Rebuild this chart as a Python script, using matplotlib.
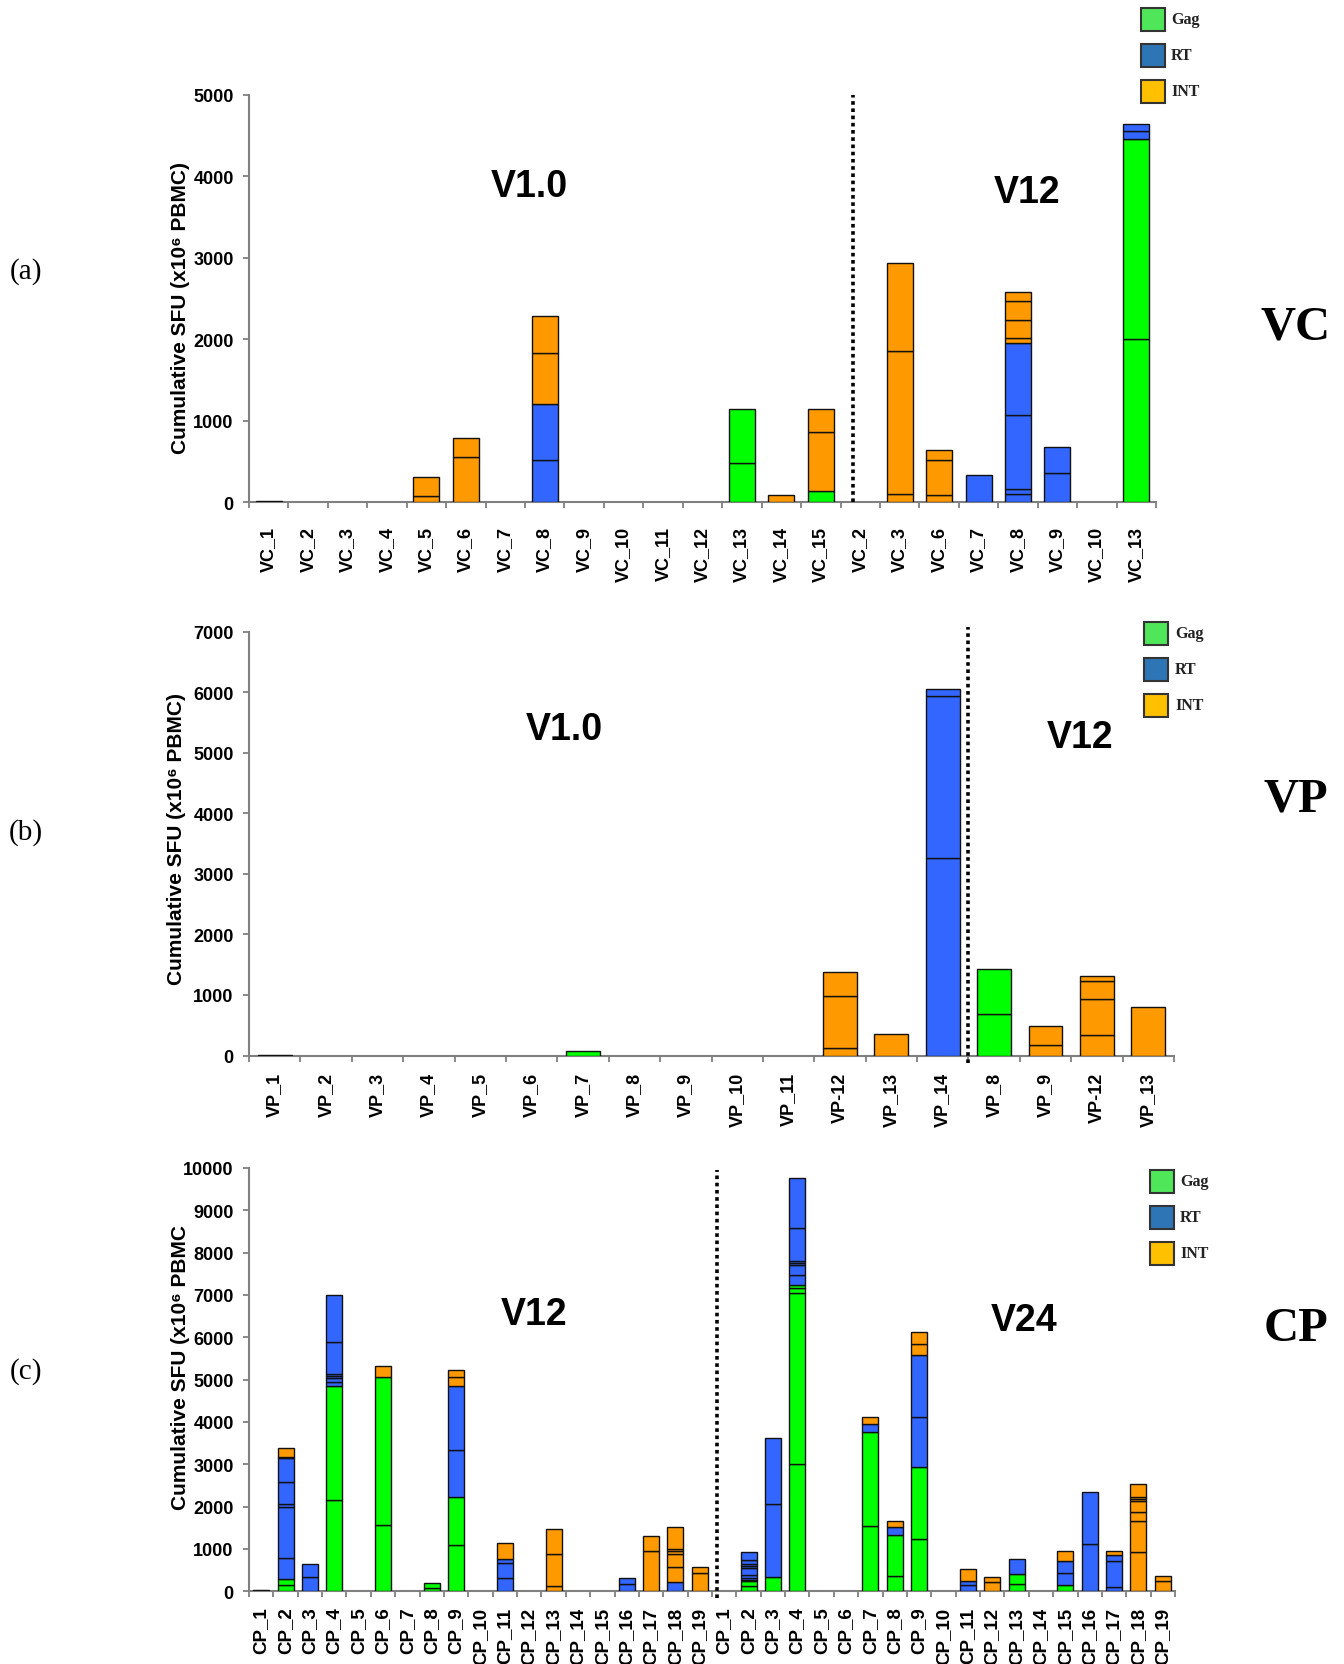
import matplotlib
matplotlib.use("Agg")
import matplotlib.pyplot as plt
from matplotlib.patches import Rectangle
import numpy as np

W, H = 1344, 1665

colors = {'Gag': '#00FF00', 'RT': '#3366FF', 'INT': '#FF9900'}
legend_colors = {'Gag': '#50E65A', 'RT': '#2E75B6', 'INT': '#FFC000'}
proteins = ['Gag', 'RT', 'INT']

# ---- panel (a) VC ----
vc_labels = ['VC_%d' % i for i in range(1, 16)] + ['VC_2', 'VC_3', 'VC_6', 'VC_7', 'VC_8', 'VC_9', 'VC_10', 'VC_13']
vc_segments = [
    [('RT', 12)], [], [], [],
    [('INT', 74), ('INT', 233)],
    [('INT', 553), ('INT', 234)],
    [],
    [('RT', 520), ('RT', 677), ('INT', 627), ('INT', 455)],
    [], [], [], [],
    [('Gag', 480), ('Gag', 659)],
    [('INT', 82)],
    [('Gag', 139), ('INT', 718), ('INT', 282)],
    # V12
    [],
    [('INT', 100), ('INT', 1756), ('INT', 1080)],
    [('INT', 86), ('INT', 427), ('INT', 127)],
    [('RT', 327)],
    [('RT', 100), ('RT', 59), ('RT', 907), ('RT', 880), ('INT', 64), ('INT', 222), ('INT', 241), ('INT', 104)],
    [('RT', 358), ('RT', 323)],
    [],
    [('Gag', 2005), ('Gag', 2451), ('RT', 104), ('RT', 77)],
]

# ---- panel (b) VP ----
vp_labels = ['VP_%d' % i for i in range(1, 12)] + ['VP-12', 'VP_13', 'VP_14', 'VP_8', 'VP_9', 'VP-12', 'VP_13']
vp_segments = [
    [('RT', 12)], [], [], [], [], [],
    [('Gag', 78)],
    [], [], [], [],
    [('INT', 128), ('INT', 855), ('INT', 397)],
    [('INT', 363)],
    [('RT', 3263), ('RT', 2670), ('RT', 123)],
    # V12
    [('Gag', 687), ('Gag', 749)],
    [('INT', 179), ('INT', 313)],
    [('INT', 346), ('INT', 581), ('INT', 302), ('INT', 89)],
    [('INT', 804)],
]

# ---- panel (c) CP ----
cp_labels = ['CP_%d' % i for i in range(1, 20)] * 2
cp_segments = [
    [('RT', 20)],
    [('Gag', 150), ('Gag', 140), ('RT', 500), ('RT', 1210), ('RT', 55), ('RT', 520), ('RT', 565), ('RT', 25), ('INT', 230)],
    [('RT', 338), ('RT', 298)],
    [('Gag', 2160), ('Gag', 2695), ('RT', 94), ('RT', 86), ('RT', 55), ('RT', 55), ('RT', 754), ('RT', 1101)],
    [],
    [('Gag', 1555), ('Gag', 3512), ('INT', 259)],
    [],
    [('Gag', 86), ('Gag', 118)],
    [('Gag', 1084), ('Gag', 1155), ('RT', 1092), ('RT', 1508), ('INT', 212), ('INT', 181)],
    [],
    [('RT', 314), ('RT', 354), ('RT', 94), ('INT', 385)],
    [],
    [('INT', 118), ('INT', 762), ('INT', 589)],
    [], [],
    [('RT', 173), ('RT', 141)],
    [('INT', 950), ('INT', 354)],
    [('RT', 220), ('INT', 353), ('INT', 307), ('INT', 70), ('INT', 48), ('INT', 518)],
    [('INT', 432), ('INT', 141)],
    # V24
    [],
    [('Gag', 118), ('Gag', 118), ('Gag', 40), ('RT', 40), ('RT', 70), ('RT', 170), ('RT', 40), ('RT', 55), ('RT', 85), ('RT', 197)],
    [('Gag', 330), ('RT', 1728), ('RT', 1571)],
    [('Gag', 3000), ('Gag', 4055), ('Gag', 100), ('Gag', 80), ('RT', 228), ('RT', 250), ('RT', 47), ('RT', 47), ('RT', 786), ('RT', 1178)],
    [], [],
    [('Gag', 1540), ('Gag', 2215), ('RT', 196), ('INT', 157)],
    [('Gag', 369), ('Gag', 959), ('RT', 196), ('INT', 133)],
    [('Gag', 1241), ('Gag', 1697), ('RT', 1178), ('RT', 1477), ('INT', 259), ('INT', 283)],
    [],
    [('RT', 149), ('RT', 95), ('INT', 282)],
    [('INT', 220), ('INT', 118)],
    [('Gag', 173), ('Gag', 235), ('RT', 362)],
    [],
    [('Gag', 141), ('RT', 291), ('RT', 291), ('INT', 227)],
    [('RT', 1115), ('RT', 1234)],
    [('RT', 110), ('RT', 605), ('RT', 141), ('INT', 94)],
    [('INT', 927), ('INT', 723), ('INT', 212), ('INT', 267), ('INT', 55), ('INT', 47), ('INT', 314)],
    [('INT', 244), ('INT', 125)],
]

sans = ['Liberation Sans', 'DejaVu Sans']
serif = ['Liberation Serif', 'DejaVu Serif']
plt.rcParams['font.family'] = sans
plt.rcParams['font.weight'] = 'bold'

fig = plt.figure(figsize=(W / 100, H / 100), dpi=100)


def px_axes(left, right, top, bottom):
    return fig.add_axes([left / W, 1 - bottom / H, (right - left) / W, (bottom - top) / H])


def fx(x):
    return x / W


def fy(y):
    return 1 - y / H


def draw_panel(ax, labels, segments, ymax, label_size, label_pad):
    for i, segs in enumerate(segments):
        bottom = 0
        for prot, val in segs:
            ax.bar(i, val, bottom=bottom, width=0.66, color=colors[prot],
                   edgecolor='#111111', linewidth=1.0, zorder=3)
            bottom += val
    n = len(labels)
    ax.set_xlim(-0.5, n - 0.5)
    ax.set_ylim(0, ymax)
    ax.set_yticks(np.arange(0, ymax + 1, 1000))
    ax.set_xticks(np.arange(n))
    ax.set_xticklabels(labels, rotation=90, fontsize=label_size, fontweight='bold')
    ax.set_xticks(np.arange(n + 1) - 0.5, minor=True)
    ax.tick_params(axis='x', which='major', length=0, pad=label_pad)
    ax.tick_params(axis='x', which='minor', length=4, width=1.3, color='#808080', direction='out')
    ax.tick_params(axis='y', length=4, width=1.3, color='#808080', direction='out', pad=7)
    for t in ax.get_yticklabels():
        t.set_fontsize(13)
        t.set_fontweight('bold')
    for s in ['top', 'right']:
        ax.spines[s].set_visible(False)
    for s in ['left', 'bottom']:
        ax.spines[s].set_color('#808080')
        ax.spines[s].set_linewidth(1.5)


def draw_legend(x0, y_tops, text_x):
    for prot, yt in zip(proteins, y_tops):
        fig.patches.append(Rectangle((fx(x0), fy(yt + 23)), 24 / W, 23 / H, transform=fig.transFigure,
                                     facecolor=legend_colors[prot], edgecolor='#333333', linewidth=1.5))
        fig.text(fx(text_x), fy(yt + 11.5), prot, fontsize=11.5, fontweight='bold', family=serif,
                 va='center', ha='left', color='#222222')


# (a)
ax1 = px_axes(249, 1156, 95.7, 503)
draw_panel(ax1, vc_labels, vc_segments, 5000, 13, 17)
ax1.plot([14.82, 14.82], [0, 5000], color='black', linestyle=(0, (1, 1)), linewidth=2.6, zorder=4)
ax1.text(6.6, 3880, 'V1.0', fontsize=27, fontweight='bold', ha='center', va='center')
ax1.text(19.23, 3800, 'V12', fontsize=27, fontweight='bold', ha='center', va='center')
draw_legend(1141, [8.5, 44.6, 80.7], 1171)

# (b)
ax2 = px_axes(249, 1174, 632.6, 1056.5)
draw_panel(ax2, vp_labels, vp_segments, 7000, 13, 12)
ax2.plot([13.5, 13.5], [-130, 7070], color='black', linestyle=(0, (1, 1)), linewidth=2.6,
         zorder=4, clip_on=False)
ax2.text(5.63, 5390, 'V1.0', fontsize=27, fontweight='bold', ha='center', va='center')
ax2.text(15.67, 5260, 'V12', fontsize=27, fontweight='bold', ha='center', va='center')
draw_legend(1144, [623, 659, 695], 1175)

# (c)
ax3 = px_axes(249, 1175, 1169, 1592.3)
draw_panel(ax3, cp_labels, cp_segments, 10000, 13.5, 11)
ax3.plot([18.7, 18.7], [-170, 9950], color='black', linestyle=(0, (1, 1)), linewidth=2.6,
         zorder=4, clip_on=False)
ax3.text(11.19, 6560, 'V12', fontsize=27, fontweight='bold', ha='center', va='center')
ax3.text(31.3, 6420, 'V24', fontsize=27, fontweight='bold', ha='center', va='center')
draw_legend(1150, [1171, 1207, 1243], 1180)

# y labels
ylab = 'Cumulative SFU (x10\u2076 PBMC)'
fig.text(fx(180), fy(308), ylab, rotation=90, fontsize=15, fontweight='bold', ha='center', va='center')
fig.text(fx(177), fy(839), ylab, rotation=90, fontsize=15, fontweight='bold', ha='center', va='center')
fig.text(fx(180), fy(1368), 'Cumulative SFU (x10\u2076 PBMC', rotation=90, fontsize=15, fontweight='bold',
         ha='center', va='center')

# panel letters and group names
for lab, y in [('(a)', 272), ('(b)', 833), ('(c)', 1372)]:
    fig.text(fx(26), fy(y), lab, fontsize=21, fontweight='normal', family=serif, ha='center', va='center')
for lab, y in [('VC', 328), ('VP', 800), ('CP', 1329)]:
    fig.text(fx(1296), fy(y), lab, fontsize=35, fontweight='bold', family=serif, ha='center', va='center')

fig.savefig('out.png', dpi=100)
